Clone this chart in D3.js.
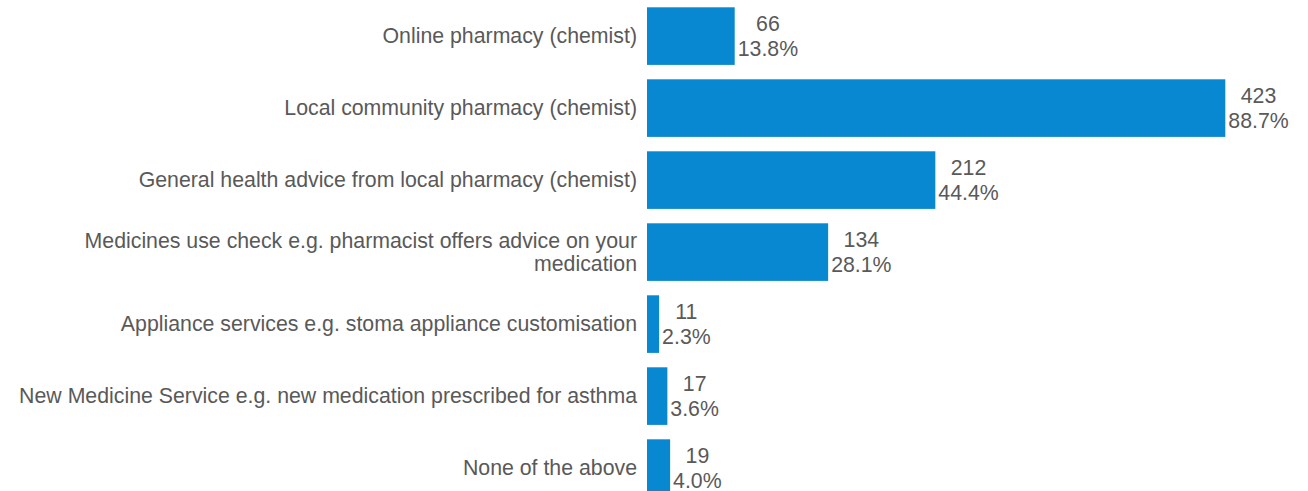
<!DOCTYPE html>
<html>
<head>
<meta charset="utf-8">
<script src="https://cdn.jsdelivr.net/npm/d3@7"></script>
<style>
  html, body { margin: 0; padding: 0; background: #ffffff; }
  svg { display: block; }
  text { font-family: Arial, "Liberation Sans", sans-serif; fill: #595959; }
</style>
</head>
<body>
<svg id="chart" width="1308" height="491"></svg>
<script>
// Pharmacy services used (respondents, share of respondents)
const categories = [
  "Online pharmacy (chemist)",
  "Local community pharmacy (chemist)",
  "General health advice from local pharmacy (chemist)",
  "Medicines use check e.g. pharmacist offers advice on your medication",
  "Appliance services e.g. stoma appliance customisation",
  "New Medicine Service e.g. new medication prescribed for asthma",
  "None of the above"
];
const counts = [66, 423, 212, 134, 11, 17, 19];
const percents = ["13.8%", "88.7%", "44.4%", "28.1%", "2.3%", "3.6%", "4.0%"];
// label lines (category text split where it wraps)
const labelLines = [
  ["Online pharmacy (chemist)"],
  ["Local community pharmacy (chemist)"],
  ["General health advice from local pharmacy (chemist)"],
  ["Medicines use check e.g. pharmacist offers advice on your", "medication"],
  ["Appliance services e.g. stoma appliance customisation"],
  ["New Medicine Service e.g. new medication prescribed for asthma"],
  ["None of the above"]
];

const barStart = 647;       // left edge of the plot area
const barGap = 3;           // bars begin a little right of the zero line
const fontSize = 21.3;

const svg = d3.select("#chart");

const x = d3.scaleLinear()
  .domain([0, d3.max(counts)])
  .range([barStart - barGap, 1225.3]);

const y = d3.scaleBand()
  .domain(categories)
  .range([7.3, 496.9])
  .paddingInner(0.2)
  .paddingOuter(0);

const rows = categories.map((c, i) => ({
  cat: c, count: counts[i], pct: percents[i], lines: labelLines[i]
}));

// bars
svg.append("g").selectAll("rect")
  .data(rows)
  .join("rect")
  .attr("x", barStart)
  .attr("y", d => y(d.cat))
  .attr("width", d => Math.max(0, x(d.count) - barStart))
  .attr("height", y.bandwidth())
  .attr("fill", "#0788d1");

// category axis
const axis = svg.append("g")
  .attr("transform", `translate(${barStart},0)`)
  .call(d3.axisLeft(y).tickSize(0).tickPadding(10));
axis.select(".domain").remove();
axis.selectAll(".tick text").each(function(cat, i) {
  const t = d3.select(this);
  const lines = labelLines[i];
  const lh = 22.5;
  t.text(null)
    .attr("dy", null)
    .attr("font-size", fontSize)
    .attr("font-family", "Arial, 'Liberation Sans', sans-serif")
    .style("fill", "#595959");
  const first = -(lines.length - 1) * lh / 2 + 7.3;
  lines.forEach((ln, k) => {
    t.append("tspan")
      .attr("x", -10)
      .attr("y", first + k * lh)
      .text(ln);
  });
});

// value labels: count above share, block starts just right of the bar
const lbl = svg.append("g").selectAll("g")
  .data(rows)
  .join("g")
  .attr("transform", d => `translate(${x(d.count) + 3},${y(d.cat) + y.bandwidth() / 2})`);

lbl.each(function(d) {
  const g = d3.select(this);
  const p = g.append("text")
    .attr("font-size", fontSize)
    .attr("y", 19.8)
    .text(d.pct);
  const c = g.append("text")
    .attr("font-size", fontSize)
    .attr("y", -4.7)
    .text(d.count);
  const wp = p.node().getComputedTextLength();
  const wc = c.node().getComputedTextLength();
  const w = Math.max(wp, wc);
  p.attr("x", (w - wp) / 2);
  c.attr("x", (w - wc) / 2);
});
</script>
</body>
</html>
